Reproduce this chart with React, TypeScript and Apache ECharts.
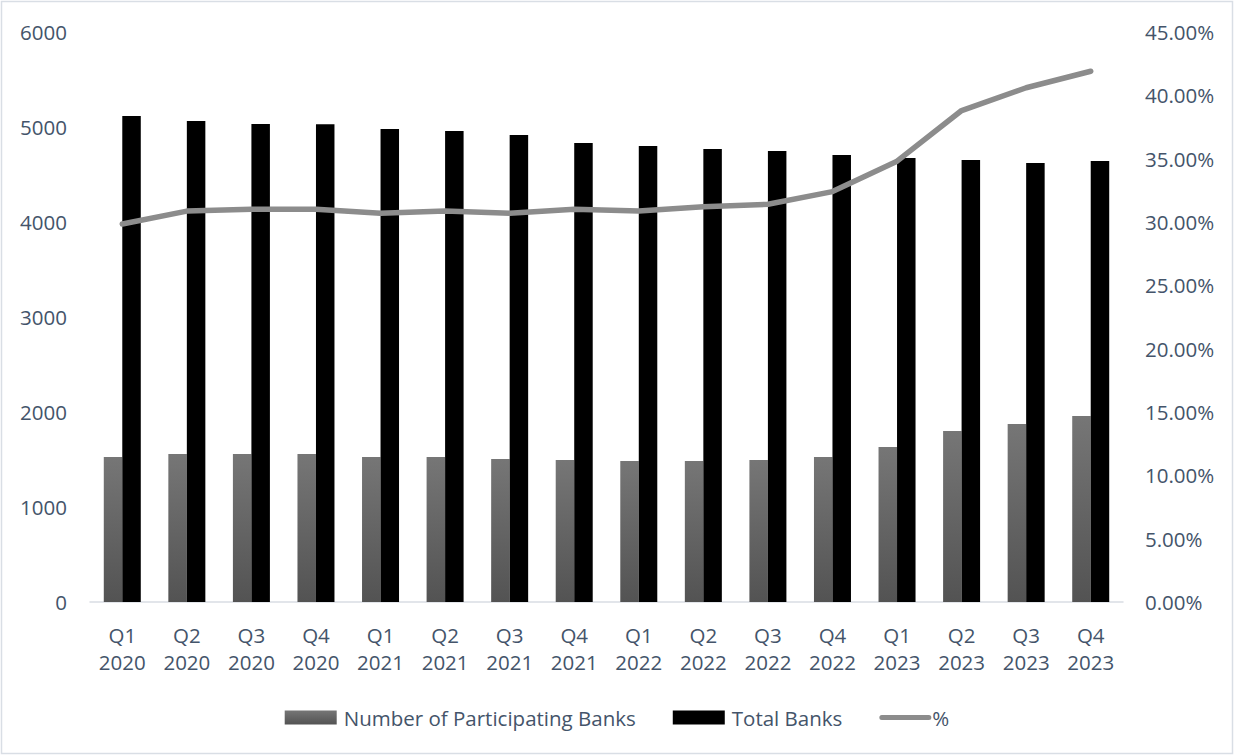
import React, { useEffect, useRef } from "react";
import * as echarts from "echarts";

const categories = [
  "Q1\n2020", "Q2\n2020", "Q3\n2020", "Q4\n2020",
  "Q1\n2021", "Q2\n2021", "Q3\n2021", "Q4\n2021",
  "Q1\n2022", "Q2\n2022", "Q3\n2022", "Q4\n2022",
  "Q1\n2023", "Q2\n2023", "Q3\n2023", "Q4\n2023",
];
const participatingBanks = [1526, 1558, 1558, 1558, 1526, 1526, 1505, 1495, 1484, 1484, 1495, 1526, 1632, 1800, 1874, 1958];
const totalBanks = [5116, 5063, 5032, 5030, 4979, 4958, 4916, 4832, 4800, 4768, 4747, 4705, 4674, 4653, 4621, 4642];
const percentParticipating = [0.2984, 0.3086, 0.3100, 0.3100, 0.3070, 0.3086, 0.3070, 0.3100, 0.3086, 0.3120, 0.3140, 0.3240, 0.3480, 0.3880, 0.4060, 0.4190];
const leftTicks = { min: 0, max: 6000, interval: 1000 };
const rightTicks = { min: 0, max: 0.45, interval: 0.05 };

const TEXT = "#44546A";
const FONT = "'Open Sans', sans-serif";
const LINE_ICON =
  "path://M0,0 M52,14 M2.5,4.5 L49.5,4.5 A2.5,2.5 0 0 1 49.5,9.5 L2.5,9.5 A2.5,2.5 0 0 1 2.5,4.5 Z";

export default function App() {
  const ref = useRef<HTMLDivElement>(null);
  useEffect(() => {
    if (!ref.current) return;
    const chart = echarts.init(ref.current, undefined, { renderer: "svg" });
    const grayGrad = new echarts.graphic.LinearGradient(0, 0, 0, 1, [
      { offset: 0, color: "#767676" },
      { offset: 1, color: "#535353" },
    ]);
    chart.setOption({
      animation: false,
      backgroundColor: "#ffffff",
      textStyle: { fontFamily: FONT },
      grid: { left: 90, right: 111, top: 32, bottom: 154 },
      legend: {
        left: "center",
        top: 702,
        itemWidth: 52,
        itemHeight: 14,
        itemGap: 37,
        textStyle: { color: TEXT, fontSize: 20.5, fontFamily: FONT, padding: [0, 0, 0, 2] },
        data: [
          { name: "Number of Participating Banks", icon: "rect" },
          { name: "Total Banks", icon: "rect" },
          {
            name: "%",
            icon: LINE_ICON,
            itemStyle: { color: "#8C8C8C", borderWidth: 0 },
            textStyle: { padding: [0, 0, 0, -4] },
          },
        ],
      },
      xAxis: {
        type: "category",
        data: categories,
        axisLine: { show: true, lineStyle: { color: "#D9DDE3", width: 1.5 } },
        axisTick: { show: false },
        axisLabel: {
          color: TEXT,
          fontSize: 20.5,
          fontFamily: FONT,
          lineHeight: 27,
          margin: 19,
          interval: 0,
        },
      },
      yAxis: [
        {
          type: "value",
          ...leftTicks,
          splitLine: { show: false },
          axisLine: { show: false },
          axisTick: { show: false },
          axisLabel: {
            color: TEXT,
            fontSize: 20.5,
            fontFamily: FONT,
            margin: 23,
            formatter: (v: number) => String(v),
          },
        },
        {
          type: "value",
          ...rightTicks,
          position: "right",
          splitLine: { show: false },
          axisLine: { show: false },
          axisTick: { show: false },
          axisLabel: {
            color: TEXT,
            fontSize: 20.5,
            fontFamily: FONT,
            margin: 22,
            formatter: (v: number) => (v * 100).toFixed(2) + "%",
          },
        },
      ],
      series: [
        {
          name: "Number of Participating Banks",
          type: "bar",
          data: participatingBanks,
          barWidth: 18.5,
          barGap: "0%",
          itemStyle: { color: grayGrad },
        },
        {
          name: "Total Banks",
          type: "bar",
          data: totalBanks,
          barWidth: 18.5,
          barGap: "0%",
          itemStyle: { color: "#000000" },
        },
        {
          name: "%",
          type: "line",
          yAxisIndex: 1,
          data: percentParticipating,
          symbol: "none",
          lineStyle: { color: "#8C8C8C", width: 5.5, cap: "round", join: "round" },
          itemStyle: { color: "#8C8C8C" },
        },
      ],
      graphic: [
        {
          type: "rect",
          shape: { x: 1.5, y: 1.5, width: 1231, height: 752 },
          style: { fill: "none", stroke: "#D9DEE5", lineWidth: 1.5 },
          silent: true,
        },
      ],
    });
    return () => chart.dispose();
  }, []);
  return (
    <div
      ref={ref}
      style={{ position: "fixed", left: 0, top: 0, width: 1234, height: 756 }}
    />
  );
}
